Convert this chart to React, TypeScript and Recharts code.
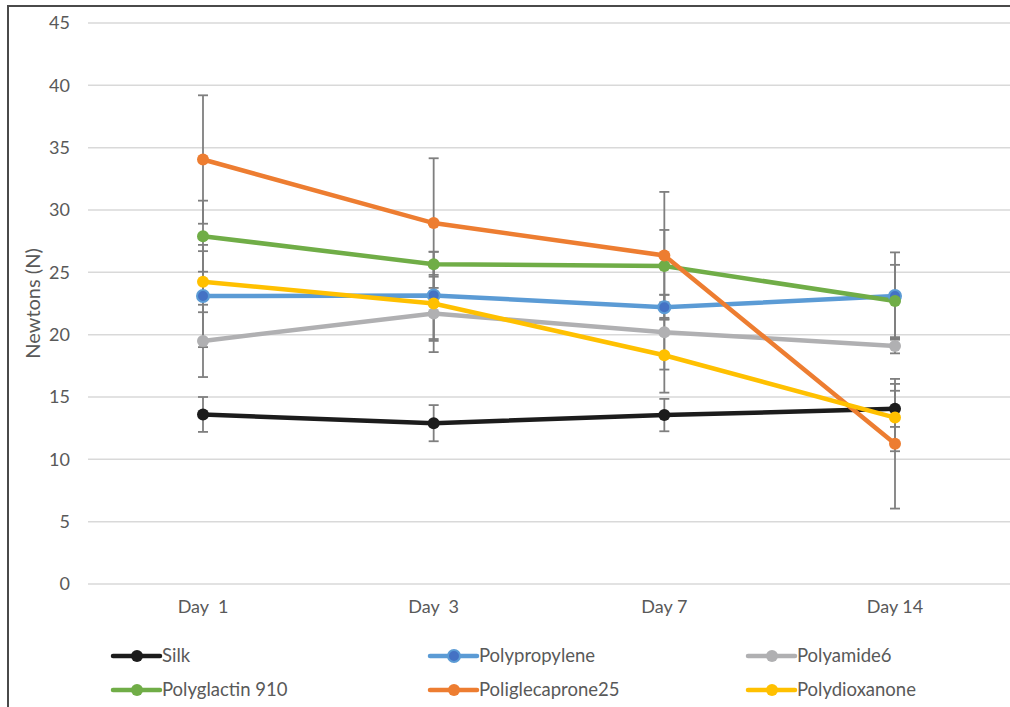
import React from "react";
import { LineChart, Line, XAxis, YAxis, CartesianGrid, ErrorBar, Legend, Label } from "recharts";

const categories = ["Day\u00a0 1", "Day\u00a0 3", "Day 7", "Day 14"];
const yTicks = [0, 5, 10, 15, 20, 25, 30, 35, 40, 45];

const silk = [13.6, 12.9, 13.55, 14.05];
const silkErr = [1.4, 1.45, 1.3, 1.45];
const polypropylene = [23.1, 23.15, 22.2, 23.1];
const polypropyleneErr = [4.1, 3.5, 1.0, 3.5];
const polyamide6 = [19.5, 21.7, 20.2, 19.1];
const polyamide6Err = [2.9, 3.1, 3.0, 0.6];
const polyglactin910 = [27.9, 25.65, 25.5, 22.7];
const polyglactin910Err = [2.85, 1.0, 2.9, 2.9];
const poliglecaprone25 = [34.05, 28.95, 26.35, 11.25];
const poliglecaprone25Err = [5.15, 5.2, 5.1, 5.2];
const polydioxanone = [24.25, 22.5, 18.35, 13.35];
const polydioxanoneErr = [2.45, 3.0, 3.0, 2.7];

const seriesDefs = [
  { key: "silk", name: "Silk", values: silk, errs: silkErr, color: "#1c1c1c", dot: "#1c1c1c" },
  { key: "polypropylene", name: "Polypropylene", values: polypropylene, errs: polypropyleneErr, color: "#5b9bd5", dot: "#4472c4" },
  { key: "polyamide6", name: "Polyamide6", values: polyamide6, errs: polyamide6Err, color: "#b0b0b2", dot: "#b0b0b2" },
  { key: "polyglactin910", name: "Polyglactin 910", values: polyglactin910, errs: polyglactin910Err, color: "#70ad47", dot: "#70ad47" },
  { key: "poliglecaprone25", name: "Poliglecaprone25", values: poliglecaprone25, errs: poliglecaprone25Err, color: "#ed7d31", dot: "#ed7d31" },
  { key: "polydioxanone", name: "Polydioxanone", values: polydioxanone, errs: polydioxanoneErr, color: "#ffc000", dot: "#ffc000" },
];

const data = categories.map((c, i) => {
  const row: Record<string, any> = { day: c };
  seriesDefs.forEach((s) => {
    row[s.key] = s.values[i];
    row[s.key + "Err"] = s.errs[i];
  });
  return row;
});

const FONT = "Lato, 'Open Sans', sans-serif";
const TEXT = "#595959";

const colX = [113, 430, 748];

const LegendContent = () => (
  <div style={{ position: "relative", width: 1010, height: 70 }}>
    <svg width={1010} height={70} style={{ position: "absolute", left: 0, top: 0 }}>
      {seriesDefs.map((s, i) => {
        const x = colX[i % 3];
        const y = i < 3 ? 19 : 53;
        return (
          <g key={s.key}>
            <line x1={x} x2={x + 47} y1={y} y2={y} stroke={s.color} strokeWidth={4.5} strokeLinecap="round" />
            <circle cx={x + 24} cy={y} r={6} fill={s.dot} stroke={s.color} strokeWidth={s.dot !== s.color ? 2 : 0} />
            <text x={x + 49} y={y} dy="0.35em" fill={TEXT} fontSize={18.5} fontFamily={FONT}>
              {s.name}
            </text>
          </g>
        );
      })}
    </svg>
  </div>
);

export default function App() {
  return (
    <div style={{ position: "absolute", left: 0, top: 0, width: 1010, height: 707, background: "#fff", overflow: "hidden" }}>
      <div
        style={{
          position: "absolute",
          left: 7,
          top: 5,
          width: 1010,
          height: 710,
          borderLeft: "2px solid #4a4a4a",
          borderTop: "2px solid #4a4a4a",
          pointerEvents: "none",
        }}
      />
      <LineChart width={1010} height={707} data={data} margin={{ top: 23, right: 0, left: 0, bottom: 0 }}>
        <CartesianGrid horizontal vertical={false} stroke="#d9d9d9" strokeWidth={1.5} />
        <XAxis
          dataKey="day"
          height={53}
          axisLine={false}
          tickLine={false}
          tickSize={0}
          tickMargin={16}
          padding={{ left: 115, right: 115 }}
          tick={{ fill: TEXT, fontSize: 18, fontFamily: FONT }}
          interval={0}
        />
        <YAxis
          width={88}
          domain={[0, 45]}
          ticks={yTicks}
          axisLine={false}
          tickLine={false}
          tickSize={0}
          tickMargin={18}
          tick={{ fill: TEXT, fontSize: 18, fontFamily: FONT }}
        >
          <Label
            content={({ viewBox }: any) => {
              const cx = 32;
              const cy = viewBox.y + viewBox.height / 2;
              return (
                <text
                  x={cx}
                  y={cy}
                  transform={`rotate(-90 ${cx} ${cy})`}
                  textAnchor="middle"
                  dominantBaseline="central"
                  fill={TEXT}
                  fontSize={20}
                  fontFamily={FONT}
                >
                  Newtons (N)
                </text>
              );
            }}
          />
        </YAxis>
        <Legend verticalAlign="bottom" align="left" content={<LegendContent />} wrapperStyle={{ height: 70, left: 0 }} />
        {seriesDefs.map((s) => (
          <Line
            key={s.key}
            type="linear"
            dataKey={s.key}
            name={s.name}
            stroke={s.color}
            strokeWidth={4.5}
            isAnimationActive={false}
            dot={{ r: 6, fill: s.dot, stroke: s.color, strokeWidth: s.dot !== s.color ? 2 : 0 }}
            activeDot={false}
          >
            <ErrorBar dataKey={s.key + "Err"} direction="y" width={5} stroke="#7f7f7f" strokeWidth={1.8} />
          </Line>
        ))}
      </LineChart>
    </div>
  );
}
